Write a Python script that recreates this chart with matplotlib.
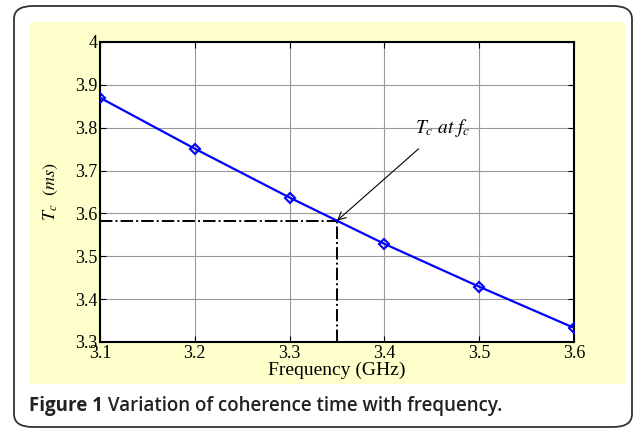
import numpy as np
import matplotlib.pyplot as plt
from matplotlib.patches import FancyBboxPatch, Rectangle

# data
freq = [3.1, 3.2, 3.3, 3.4, 3.5, 3.6]
tc = [3.870, 3.751, 3.637, 3.529, 3.429, 3.333]
fc = 3.35
tc_fc = 3.583
xticks = [3.1, 3.2, 3.3, 3.4, 3.5, 3.6]
yticks = [3.3, 3.4, 3.5, 3.6, 3.7, 3.8, 3.9, 4.0]
ytick_labels = ['3.3', '3.4', '3.5', '3.6', '3.7', '3.8', '3.9', '4']

plt.rcParams['mathtext.fontset'] = 'stix'

W, H = 635, 429
fig = plt.figure(figsize=(W / 100, H / 100), dpi=100)

# outer rounded frame and yellow panel (pixel coords -> figure fraction)
def fx(px): return px / W
def fy(py): return 1 - py / H

frame = FancyBboxPatch((fx(14), fy(427)), fx(632) - fx(14), fy(6) - fy(427),
                       boxstyle="round,pad=0,rounding_size=0.03",
                       transform=fig.transFigure, facecolor='white',
                       edgecolor='#333333', linewidth=1.3, zorder=-10)
fig.patches.append(frame)
panel = Rectangle((fx(29), fy(384)), fx(625) - fx(29), fy(22) - fy(384),
                  transform=fig.transFigure, facecolor='#FFFFCC',
                  edgecolor='none', zorder=-9)
fig.patches.append(panel)

ax = fig.add_axes([fx(100), fy(342), fx(574) - fx(100), fy(42) - fy(342)])
ax.set_facecolor('white')

serif = 'Liberation Serif'

ax.plot(freq, tc, color='#0000FF', linewidth=1.6, marker='D', markersize=5.5,
        markerfacecolor='none', markeredgecolor='#0000FF', markeredgewidth=1.5,
        zorder=3)
ax.plot([3.1, fc], [tc_fc, tc_fc], color='black', linestyle='-.', linewidth=1.4, zorder=2)
ax.plot([fc, fc], [3.3, tc_fc], color='black', linestyle='-.', linewidth=1.4, zorder=2)

ax.annotate(r'$T_c\ at\ f_c$', xy=(fc, tc_fc), xytext=(3.432, 3.80),
            fontsize=14, ha='left', va='center',
            arrowprops=dict(arrowstyle='->', color='black', lw=0.8,
                            shrinkA=8, shrinkB=0))

ax.set_xlim(3.1, 3.6)
ax.set_ylim(3.3, 4.0)
ax.set_xticks(xticks)
ax.set_yticks(yticks)
ax.set_yticklabels(ytick_labels)
ax.grid(True, color='#999999', linewidth=0.8)
ax.set_axisbelow(True)
ax.tick_params(direction='in', top=True, right=True, length=4, width=0.8,
               labelsize=13, pad=2)
for lab in ax.get_xticklabels() + ax.get_yticklabels():
    lab.set_family(serif)
for s in ax.spines.values():
    s.set_linewidth(1.5)

ax.set_xlabel('Frequency (GHz)', fontsize=14, family=serif, labelpad=0)
ax.set_ylabel(r'$T_c\ \ (ms)$', fontsize=13, labelpad=11)

t1 = fig.text(fx(29), fy(406), 'Figure 1', fontsize=13.5, fontweight='bold',
              family='Open Sans', color='#222222', va='center')
fig.canvas.draw()
bb = t1.get_window_extent()
fig.text(bb.x1 / W, fy(406), ' Variation of coherence time with frequency.',
         va='center', ha='left', fontsize=13.5, fontweight='semibold',
         family='Open Sans', color='#222222')

fig.savefig('out.png', dpi=100)
